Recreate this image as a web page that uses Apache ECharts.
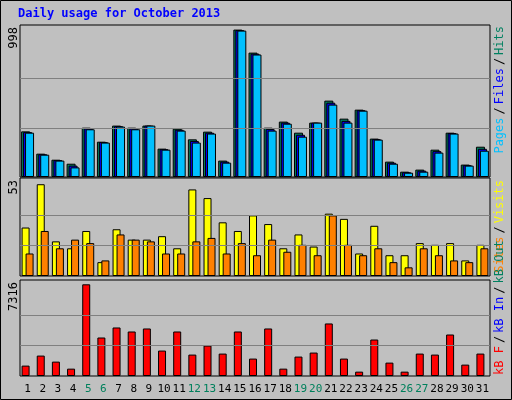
<!DOCTYPE html>
<html><head><meta charset="utf-8">
<script src="https://cdn.jsdelivr.net/npm/echarts@6/dist/echarts.min.js"></script>
<style>html,body{margin:0;padding:0;background:#c0c0c0}#c{width:512px;height:400px}</style>
</head><body><div id="c"></div>
<script>
const days = ['1','2','3','4','5','6','7','8','9','10','11','12','13','14','15','16','17','18','19','20','21','22','23','24','25','26','27','28','29','30','31'];
const weekend = ['5','6','12','13','19','20','26','27'];
const hits  = [309,158,117,90,334,239,348,334,348,192,327,255,307,111,998,842,334,375,300,368,517,395,456,260,104,36,50,185,300,84,205];
const files = [304,154,114,77,328,236,344,328,348,188,320,244,300,104,994,835,324,368,286,368,503,380,452,256,97,32,43,175,297,80,191];
const pages = [300,151,111,65,323,233,341,323,348,185,314,233,294,97,991,829,314,361,273,368,490,368,449,253,90,29,36,165,294,77,178];
const visits = [28,53,20,16,26,8,27,21,21,23,16,50,45,31,26,35,30,16,24,17,36,33,13,29,12,12,19,18,19,9,18];
const sites  = [13,26,16,21,19,9,24,21,20,13,13,20,22,13,19,12,21,14,18,12,35,18,12,16,8,5,16,12,9,8,16];
const kbF = [828,1629,1148,587,7316,3071,3872,3551,3792,2029,3551,1709,2430,1789,3551,1389,3792,587,1549,1869,4192,1389,347,2910,1068,347,1789,1709,3311,908,1789];
const kbIn = days.map(()=>0);
const maxLabels = ['998','53','7316'];
const grid1Lines = [333,666], grid2Lines = [17.7,35.3], grid3Lines = [2439,4877];

const ch = echarts.init(document.getElementById('c'));
const bs = {borderColor:'#000',borderWidth:1};
function ml(vals){return {silent:true,symbol:'none',label:{show:false},lineStyle:{color:'#808080',type:'solid',width:1},data:vals.map(v=>({yAxis:v}))};}
const grids = [
 {left:20,right:22,top:25,height:152},
 {left:20,right:22,top:178,height:98},
 {left:20,right:22,top:280,height:96}
];
const xa = i => ({type:'category',gridIndex:i,data:days,axisTick:{show:false},axisLine:{show:false},
  axisLabel:{show:i===2,fontFamily:'DejaVu Sans Mono',fontSize:11,margin:8,interval:0,
   color:(v)=>weekend.includes(v)?'#00805c':'#000'}});
const ya = (i,max) => ({type:'value',gridIndex:i,min:0,max:max,show:false,splitLine:{show:false}});
ch.setOption({
 animation:false,
 grid:grids.map(g=>Object.assign({show:true,backgroundColor:'#c0c0c0',borderColor:'#000',borderWidth:1},g)),
 xAxis:[xa(0),xa(1),xa(2)],
 yAxis:[ya(0,1029),ya(1,56.6),ya(2,7660)],
 series:[
  {type:'bar',xAxisIndex:0,yAxisIndex:0,data:hits,barWidth:9,barGap:'-78%',itemStyle:Object.assign({color:'#008060'},bs),markLine:ml(grid1Lines),z:1},
  {type:'bar',xAxisIndex:0,yAxisIndex:0,data:files,barWidth:9,barGap:'-78%',itemStyle:Object.assign({color:'#0000ff'},bs)},
  {type:'bar',xAxisIndex:0,yAxisIndex:0,data:pages,barWidth:9,barGap:'-78%',itemStyle:Object.assign({color:'#00c0ff'},bs)},
  {type:'bar',xAxisIndex:1,yAxisIndex:1,data:visits,barWidth:8,barGap:'-50%',itemStyle:Object.assign({color:'#ffff00'},bs),markLine:ml(grid2Lines)},
  {type:'bar',xAxisIndex:1,yAxisIndex:1,data:sites,barWidth:8,barGap:'-50%',itemStyle:Object.assign({color:'#ff8000'},bs)},
  {type:'bar',xAxisIndex:2,yAxisIndex:2,data:kbF,barWidth:8,barGap:'-50%',itemStyle:Object.assign({color:'#ff0000'},bs),markLine:ml(grid3Lines)},
  {type:'bar',xAxisIndex:2,yAxisIndex:2,data:kbIn,barWidth:8,barGap:'-50%',itemStyle:{color:'transparent'}}
 ],
 graphic:[
  {type:'rect',shape:{x:0.5,y:0.5,width:511,height:399},style:{fill:'none',stroke:'#000',lineWidth:1}},
  {type:'text',x:18,y:8,style:{text:'Daily usage for October 2013',font:'bold 12px "DejaVu Sans Mono"',fill:'#0000ff'}},
  {type:'text',x:14,y:27,rotation:Math.PI/2,style:{text:maxLabels[0],font:'12px "DejaVu Sans Mono"',fill:'#000',align:'right',verticalAlign:'middle'}},
  {type:'text',x:14,y:180,rotation:Math.PI/2,style:{text:maxLabels[1],font:'12px "DejaVu Sans Mono"',fill:'#000',align:'right',verticalAlign:'middle'}},
  {type:'text',x:14,y:282,rotation:Math.PI/2,style:{text:maxLabels[2],font:'12px "DejaVu Sans Mono"',fill:'#000',align:'right',verticalAlign:'middle'}},
  {type:'text',x:500,y:26,rotation:Math.PI/2,style:{text:'{p|Pages}{s|/}{f|Files}{s|/}{h|Hits}',align:'right',verticalAlign:'middle',
    rich:{p:{fill:'#00c0ff',font:'12px "DejaVu Sans Mono"'},f:{fill:'#0000ff',font:'12px "DejaVu Sans Mono"'},h:{fill:'#008060',font:'12px "DejaVu Sans Mono"'},s:{fill:'#000',font:'12px "DejaVu Sans Mono"',padding:[0,3]}}}},
  {type:'text',x:500,y:180,rotation:Math.PI/2,style:{text:'{t|Sites}{s|/}{v|Visits}',align:'right',verticalAlign:'middle',
    rich:{t:{fill:'#ff8000',font:'12px "DejaVu Sans Mono"'},v:{fill:'#ffff00',font:'12px "DejaVu Sans Mono"'},s:{fill:'#000',font:'12px "DejaVu Sans Mono"',padding:[0,3]}}}},
  {type:'text',x:500,y:178,rotation:Math.PI/2,style:{text:'',align:'right'}},
  {type:'text',x:500,y:180,rotation:Math.PI/2,style:{text:'',align:'right'}},
  {type:'text',x:500,y:375,rotation:Math.PI/2,style:{text:'{r|kB F}{s|/}{b|kB In}{s|/}{g|kB Out}',align:'left',verticalAlign:'middle',
    rich:{r:{fill:'#ff0000',font:'12px "DejaVu Sans Mono"'},b:{fill:'#0000ff',font:'12px "DejaVu Sans Mono"'},g:{fill:'#008060',font:'12px "DejaVu Sans Mono"'},s:{fill:'#000',font:'12px "DejaVu Sans Mono"',padding:[0,3]}}}}
 ]
});
</script></body></html>
